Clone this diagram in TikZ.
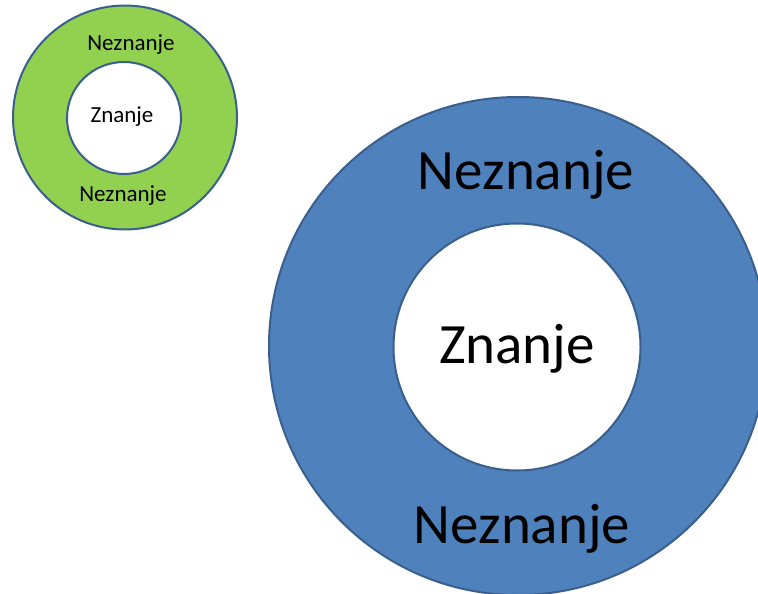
\documentclass[tikz,border=0pt]{standalone}
\usepackage{fontspec}
\setmainfont{Carlito}
\definecolor{ringgreen}{HTML}{92D050}
\definecolor{ringblue}{HTML}{4F81BD}
\definecolor{ringline}{HTML}{3A5F8C}
\tikzset{
  ring/.style={draw=ringline, line width=2pt},
  hole/.style={draw=ringline, line width=2pt, fill=white},
  smalltxt/.style={font=\fontsize{23}{27}\selectfont, inner sep=0pt},
  bigtxt/.style={font=\fontsize{57}{66}\selectfont, inner sep=0pt}
}
\begin{document}
\begin{tikzpicture}[x=1pt,y=-1pt]
\useasboundingbox (0,0) rectangle (758,594);
\begin{scope}
\clip (0,0) rectangle (758,594);
% small ring
\path[ring, fill=ringgreen] (125,117.5) circle [radius=112];
\path[hole] (124,118) ellipse [x radius=57, y radius=56];
\node[smalltxt] (sn1) at (131,45) {Neznanje};
\node[smalltxt] (sz) at (122,117) {Znanje};
\node[smalltxt] (sn2) at (123,196) {Neznanje};
% big ring
\path[ring, fill=ringblue] (518,346) circle [radius=249];
\path[hole] (517,347) circle [radius=123.5];
\node[bigtxt] (bn1) at (526,175) {Neznanje};
\node[bigtxt] (bz) at (517,349) {Znanje};
\node[bigtxt] (bn2) at (522,529) {Neznanje};
\end{scope}
\end{tikzpicture}
\end{document}
